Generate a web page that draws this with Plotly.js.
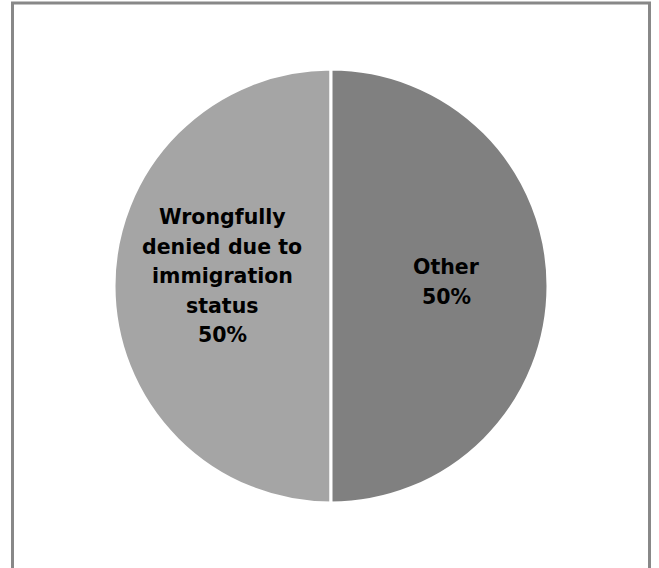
<!DOCTYPE html>
<html>
<head>
<meta charset="utf-8">
<script src="https://cdn.plot.ly/plotly-3.0.1.min.js"></script>
<style>html,body{margin:0;padding:0;background:#fff;}#chart{width:659px;height:568px;}</style>
</head>
<body>
<div id="chart"></div>
<script>
const categories = ["Wrongfully<br>denied due to<br>immigration<br>status", "Other"];
const values = [50, 50];
const sliceColors = ["#a5a5a5", "#808080"];

const W = 659, H = 568;
const cx = 331, cy = 286, R = 217;

const trace = {
  type: "pie",
  labels: categories,
  values: values,
  sort: false,
  direction: "clockwise",
  rotation: 180,
  marker: { colors: sliceColors, line: { color: "#ffffff", width: 3 } },
  textinfo: "none",
  hoverinfo: "none",
  showlegend: false,
  domain: { x: [(cx - R) / W, (cx + R) / W], y: [1 - (cy + R) / H, 1 - (cy - R) / H] }
};

// label anchor offsets from pie centre (px), one per slice
const labelOffsets = [[-109, -10], [115, -4]];
const total = values.reduce((a, b) => a + b, 0);
const lineGap = 29.5;
const annotations = [];
categories.forEach((cat, i) => {
  const pct = Math.round(values[i] / total * 100) + "%";
  const lines = (cat + "<br>" + pct).split("<br>");
  const n = lines.length;
  lines.forEach((ln, j) => {
    annotations.push({
      xref: "paper", yref: "paper",
      x: (cx + labelOffsets[i][0]) / W,
      y: 1 - (cy + labelOffsets[i][1]) / H,
      xanchor: "center", yanchor: "middle",
      yshift: -(j - (n - 1) / 2) * lineGap,
      text: ln, showarrow: false,
      font: { family: "DejaVu Sans, sans-serif", size: 20.5, color: "#000000", weight: "bold" }
    });
  });
});

const layout = {
  width: W,
  height: H,
  margin: { l: 0, r: 0, t: 0, b: 0 },
  paper_bgcolor: "#ffffff",
  showlegend: false,
  annotations: annotations,
  shapes: [{
    type: "rect", xref: "paper", yref: "paper",
    x0: 12.5 / W, x1: 649.5 / W, y0: -0.2, y1: 1 - 3 / H,
    line: { color: "#888888", width: 3 }, fillcolor: "rgba(0,0,0,0)"
  }]
};

Plotly.newPlot("chart", [trace], layout, { displayModeBar: false, staticPlot: true });
</script>
</body>
</html>
